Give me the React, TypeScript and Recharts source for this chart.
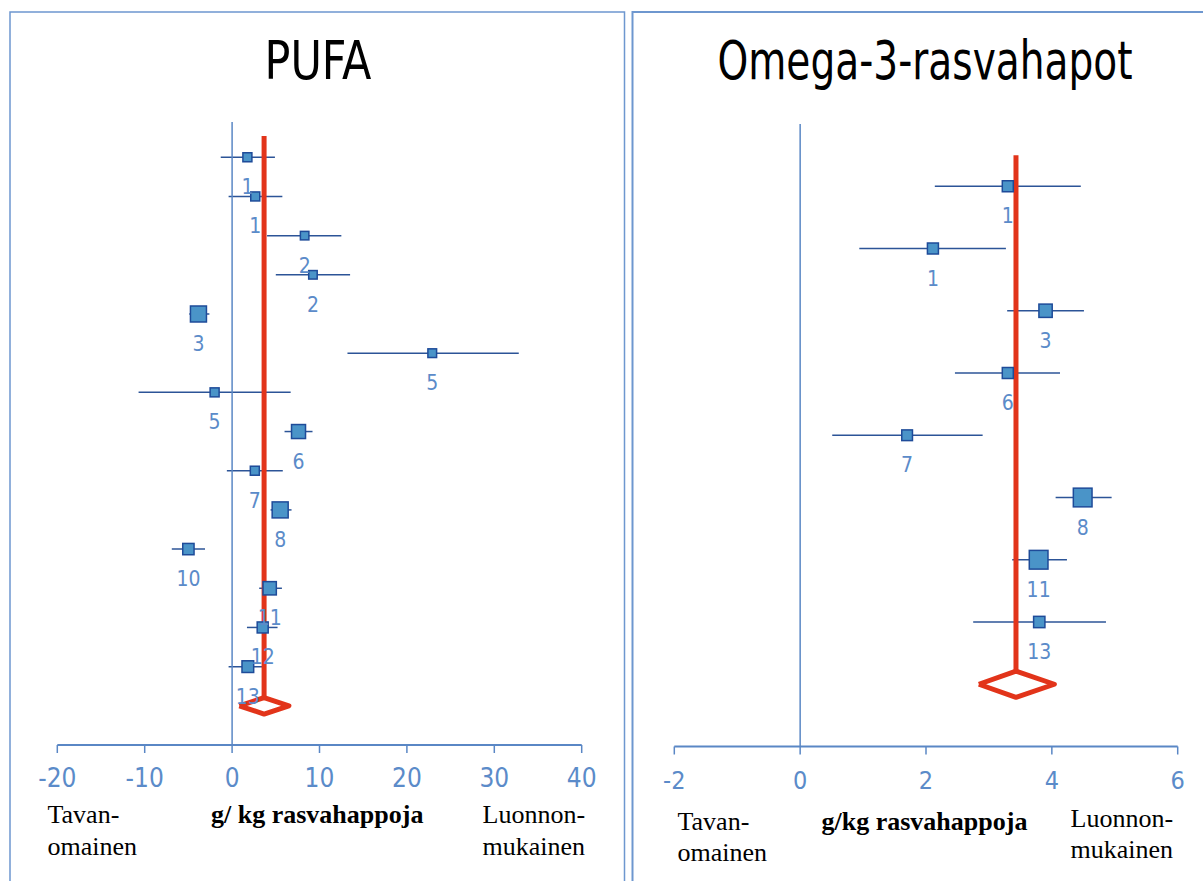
import React from 'react';
import { ComposedChart, Scatter, XAxis, YAxis, ErrorBar } from 'recharts';

// ---------- PUFA data (g/kg fatty acids) ----------
const pufaLabels = ['1', '1', '2', '2', '3', '5', '5', '6', '7', '8', '10', '11', '12', '13'];
const pufaEst = [1.75, 2.65, 8.3, 9.25, -3.85, 22.9, -2.0, 7.6, 2.6, 5.5, -5.0, 4.3, 3.5, 1.8];
const pufaLow = [-1.3, -0.4, 4.0, 5.0, -4.9, 13.2, -10.7, 6.0, -0.6, 4.4, -6.9, 3.1, 1.7, -0.4];
const pufaHigh = [4.9, 5.75, 12.5, 13.5, -2.6, 32.8, 6.7, 9.2, 5.8, 6.8, -3.1, 5.7, 5.2, 3.6];
const pufaWeight = [5, 5, 4.5, 4.5, 12, 4.7, 5, 10, 5, 12, 7.3, 9.3, 7, 7.7];
const pufaPooled = [3.66, 0.83, 6.5]; // estimate, low, high
const pufaTicks = [-20, -10, 0, 10, 20, 30, 40];

// ---------- Omega-3 data ----------
const omegaLabels = ['1', '1', '3', '6', '7', '8', '11', '13'];
const omegaEst = [3.3, 2.11, 3.9, 3.3, 1.7, 4.49, 3.79, 3.8];
const omegaLow = [2.14, 0.94, 3.29, 2.46, 0.51, 4.06, 3.37, 2.75];
const omegaHigh = [4.46, 3.27, 4.51, 4.13, 2.9, 4.95, 4.24, 4.86];
const omegaWeight = [7, 7, 9.3, 7, 6.7, 14.7, 14.7, 7.3];
const omegaPooled = [3.43, 2.84, 4.04];
const omegaTicks = [-2, 0, 2, 4, 6];

const SANS = "'Liberation Sans Narrow', 'DejaVu Sans Condensed', 'Liberation Sans', sans-serif";
const SERIF = "'Liberation Serif', 'Times New Roman', serif";
const AXIS_BLUE = '#5A87C5';
const LABEL_BLUE = '#5B8BC9';
const CI_BLUE = '#2C5497';
const SQ_FILL = '#4A94C8';
const SQ_STROKE = '#1E4B99';
const RED = '#E2341A';

type Row = { x: number; y: number; err: [number, number]; w: number; label: string };

function buildRows(est: number[], low: number[], high: number[], w: number[], labels: string[]): Row[] {
  return est.map((e, i) => ({
    x: e,
    y: i + 1,
    err: [e - low[i], high[i] - e],
    w: w[i],
    label: labels[i],
  }));
}

const Empty = () => <g />;

const Square = (props: any) => {
  const { cx, cy, payload } = props;
  const s = 4 + payload.w;
  return (
    <rect x={cx - s / 2} y={cy - s / 2} width={s} height={s} fill={SQ_FILL} stroke={SQ_STROKE} strokeWidth={1.5} />
  );
};

const LabelShape = (props: any) => {
  const { cx, cy, payload } = props;
  return (
    <text
      x={cx}
      y={cy + 30}
      textAnchor="middle"
      dominantBaseline="central"
      fontFamily={SANS}
      fontSize={21}
      fill={LABEL_BLUE}
    >
      {payload.label}
    </text>
  );
};

type PanelProps = {
  rows: Row[];
  pooled: number[];
  ticks: number[];
  domainX: [number, number];
  domainY: [number, number];
  redTop: number;
  width: number;
  margin: { top: number; right: number; bottom: number; left: number };
  tickFont: number;
  tickMargin: number;
};

function ForestPanel(p: PanelProps) {
  const n = p.rows.length;
  const dRow = n + 1;
  const h = 0.21;
  const [est, lo, hi] = p.pooled;
  const zeroLine = [
    { x: 0, y: p.domainY[0] },
    { x: 0, y: p.domainY[1] },
  ];
  const redLine = [
    { x: est, y: p.redTop },
    { x: est, y: dRow - h },
  ];
  const diamond = [
    { x: lo, y: dRow },
    { x: est, y: dRow - h },
    { x: hi, y: dRow },
    { x: est, y: dRow + h },
    { x: lo, y: dRow },
  ];
  return (
    <ComposedChart width={p.width} height={881} margin={p.margin}>
      <XAxis
        type="number"
        dataKey="x"
        domain={p.domainX}
        ticks={p.ticks}
        interval={0}
        allowDataOverflow
        height={40}
        tickSize={8}
        tickMargin={p.tickMargin}
        axisLine={{ stroke: AXIS_BLUE, strokeWidth: 2 }}
        tickLine={{ stroke: AXIS_BLUE, strokeWidth: 1.5 }}
        tick={{ fill: LABEL_BLUE, fontSize: p.tickFont, fontFamily: SANS }}
      />
      <YAxis type="number" dataKey="y" domain={p.domainY} reversed hide allowDataOverflow />
      <Scatter
        data={zeroLine}
        line={{ stroke: AXIS_BLUE, strokeWidth: 1.5 }}
        lineType="joint"
        shape={Empty}
        fill={AXIS_BLUE}
        isAnimationActive={false}
      />
      <Scatter
        data={redLine}
        line={{ stroke: RED, strokeWidth: 5 }}
        lineType="joint"
        shape={Empty}
        fill={RED}
        isAnimationActive={false}
      />
      <Scatter
        data={diamond}
        line={{ stroke: RED, strokeWidth: 5, strokeLinejoin: 'round' }}
        lineType="joint"
        shape={Empty}
        fill={RED}
        isAnimationActive={false}
      />
      <Scatter data={p.rows} shape={Empty} fill={CI_BLUE} isAnimationActive={false}>
        <ErrorBar dataKey="err" direction="x" width={0} stroke={CI_BLUE} strokeWidth={1.5} isAnimationActive={false} />
      </Scatter>
      <Scatter data={p.rows} shape={Square} fill={SQ_FILL} isAnimationActive={false} />
      <Scatter data={p.rows} shape={LabelShape} fill={LABEL_BLUE} isAnimationActive={false} />
    </ComposedChart>
  );
}

export default function App() {
  const pufaRows = buildRows(pufaEst, pufaLow, pufaHigh, pufaWeight, pufaLabels);
  const omegaRows = buildRows(omegaEst, omegaLow, omegaHigh, omegaWeight, omegaLabels);
  return (
    <div style={{ position: 'absolute', left: 0, top: 0, width: 1203, height: 881, background: '#fff', overflow: 'hidden' }}>
      <div style={{ position: 'absolute', left: 0, top: 0 }}>
        <ForestPanel
          rows={pufaRows}
          pooled={pufaPooled}
          ticks={pufaTicks}
          domainX={[-20, 40]}
          domainY={[0.1, 16]}
          redTop={0.46}
          width={630}
          margin={{ top: 122, right: 48.3, bottom: 96, left: 57.3 }}
          tickFont={26}
          tickMargin={16}
        />
      </div>
      <div style={{ position: 'absolute', left: 630, top: 0 }}>
        <ForestPanel
          rows={omegaRows}
          pooled={omegaPooled}
          ticks={omegaTicks}
          domainX={[-2, 6]}
          domainY={[0, 10]}
          redTop={0.5}
          width={573}
          margin={{ top: 124, right: 25.3, bottom: 94.5, left: 44.3 }}
          tickFont={25}
          tickMargin={17}
        />
      </div>
      <svg
        width={1203}
        height={881}
        style={{ position: 'absolute', left: 0, top: 0, pointerEvents: 'none' }}
      >
        {/* panel frames */}
        <polyline points="10,881 10,12 624.5,12 624.5,881" fill="none" stroke="#6E97CF" strokeWidth={1.5} />
        <polyline points="632.5,881 632.5,12 1210,12" fill="none" stroke="#6E97CF" strokeWidth={2} />
        {/* titles (horizontally condensed like the original narrow face) */}
        <g transform="translate(318,79) scale(0.9,1)">
          <text x={0} y={0} textAnchor="middle" fontFamily={SANS} fontSize={53} fill="#000">
            PUFA
          </text>
        </g>
        <g transform="translate(925,79) scale(0.82,1)">
          <text x={0} y={0} textAnchor="middle" fontFamily={SANS} fontSize={53} fill="#000">
            Omega-3-rasvahapot
          </text>
        </g>
        {/* left bottom texts */}
        <text x={47.5} y={823} fontFamily={SERIF} fontSize={26} fill="#000">Tavan-</text>
        <text x={47.5} y={855} fontFamily={SERIF} fontSize={26} fill="#000">omainen</text>
        <text x={211} y={823} fontFamily={SERIF} fontSize={26} fontWeight="bold" fill="#000">g/ kg rasvahappoja</text>
        <text x={482.5} y={823} fontFamily={SERIF} fontSize={26} fill="#000">Luonnon-</text>
        <text x={482.5} y={855} fontFamily={SERIF} fontSize={26} fill="#000">mukainen</text>
        {/* right bottom texts */}
        <text x={677.5} y={830} fontFamily={SERIF} fontSize={26} fill="#000">Tavan-</text>
        <text x={677.5} y={861} fontFamily={SERIF} fontSize={26} fill="#000">omainen</text>
        <text x={821.5} y={830} fontFamily={SERIF} fontSize={26} fontWeight="bold" fill="#000">g/kg rasvahappoja</text>
        <text x={1070.5} y={827} fontFamily={SERIF} fontSize={26} fill="#000">Luonnon-</text>
        <text x={1070.5} y={858} fontFamily={SERIF} fontSize={26} fill="#000">mukainen</text>
      </svg>
    </div>
  );
}
